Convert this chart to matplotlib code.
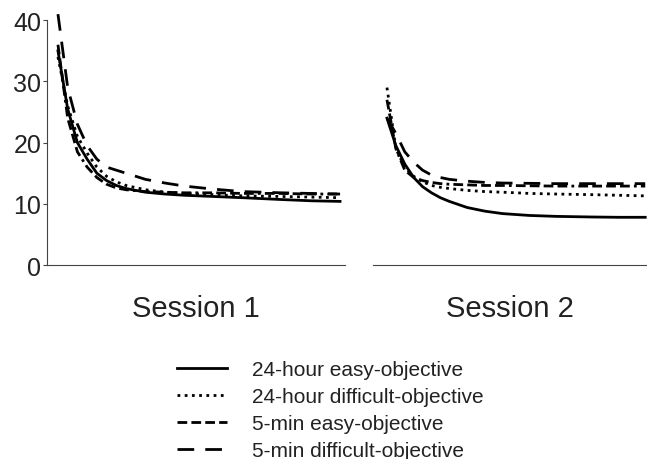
import matplotlib.pyplot as plt
from matplotlib.lines import Line2D

plt.rcParams['font.family'] = ['Liberation Sans', 'DejaVu Sans']

# trial positions shared by all curves
trials = [1, 2, 3, 4, 5, 6, 7, 8, 10, 12, 14, 17, 20, 24, 27, 30]

# Session 1
s1_24h_easy = [35, 25.5, 20, 17.3, 15.0, 13.8, 13.0, 12.5, 11.9, 11.6, 11.4, 11.2, 11.0, 10.7, 10.5, 10.4]
s1_24h_diff = [34, 26, 21, 18.3, 16.0, 14.5, 13.6, 13.0, 12.3, 11.9, 11.7, 11.5, 11.3, 11.2, 11.1, 11.0]
s1_5m_easy = [36, 24, 18.5, 16.0, 14.3, 13.2, 12.6, 12.3, 12.0, 11.9, 11.8, 11.8, 11.7, 11.7, 11.6, 11.6]
s1_5m_diff = [41, 29, 23, 19.5, 17.3, 16.0, 15.5, 15.0, 14.0, 13.4, 12.9, 12.4, 12.0, 11.8, 11.7, 11.6]

# Session 2
s2_24h_easy = [24, 19.5, 16.5, 14.3, 12.8, 11.8, 11.0, 10.4, 9.4, 8.8, 8.4, 8.1, 7.95, 7.85, 7.8, 7.8]
s2_24h_diff = [29, 19, 16, 14.5, 13.6, 13.0, 12.7, 12.5, 12.2, 12.0, 11.9, 11.7, 11.6, 11.5, 11.4, 11.3]
s2_5m_easy = [27, 19, 15.5, 14.3, 13.8, 13.5, 13.3, 13.2, 13.1, 13.0, 13.0, 12.95, 12.9, 12.9, 12.9, 12.9]
s2_5m_diff = [24, 21.5, 18.5, 16.8, 15.5, 14.7, 14.3, 14.0, 13.7, 13.5, 13.4, 13.35, 13.3, 13.3, 13.3, 13.3]

labels = ['24-hour easy-objective', '24-hour difficult-objective',
          '5-min easy-objective', '5-min difficult-objective']

styles = [
    dict(linestyle='-'),
    dict(linestyle=(0, (1, 1.6))),
    dict(linestyle=(0, (3.5, 1.5, 3.5, 1.5, 3.5, 1.5, 3.5, 1.5, 1, 1.5))),
    dict(linestyle=(0, (6, 4))),
]

fig = plt.figure(figsize=(6.47, 4.60), dpi=100)
ax1 = fig.add_axes([0.0726, 0.4217, 0.4605, 0.552])
ax2 = fig.add_axes([0.5765, 0.4217, 0.4235, 0.552])

for ax, series in [(ax1, [s1_24h_easy, s1_24h_diff, s1_5m_easy, s1_5m_diff]),
                   (ax2, [s2_24h_easy, s2_24h_diff, s2_5m_easy, s2_5m_diff])]:
    for ys, st in zip(series, styles):
        ax.plot(trials, ys, color='black', lw=2, **st)
    ax.set_ylim(0, 41.5)
    for side in ['top', 'right']:
        ax.spines[side].set_visible(False)
    ax.spines['bottom'].set_color('#444444')
    ax.spines['left'].set_color('#444444')
    ax.set_xticks([])

ax1.set_xlim(-0.13, 30.5)
ax2.set_xlim(-0.57, 30.2)

ax1.spines['left'].set_bounds(0, 40)
ax1.set_yticks([0, 10, 20, 30, 40])
ax1.tick_params(axis='y', length=3, pad=1, labelsize=18, color='#444444', labelcolor='#222222')

ax2.spines['left'].set_visible(False)
ax2.set_yticks([])

ax1.set_xlabel('Session 1', fontsize=21, labelpad=21, color='#222222')
ax2.set_xlabel('Session 2', fontsize=21, labelpad=21, color='#222222')

handles = [Line2D([], [], color='black', lw=2, **st) for st in styles]
leg = fig.legend(handles, labels, loc='upper left', bbox_to_anchor=(0.2736, 0.2155),
                 frameon=False, fontsize=15, handlelength=2.4, handletextpad=1.2,
                 labelspacing=0.39, borderaxespad=0, borderpad=0)
for t in leg.get_texts():
    t.set_color('#222222')

fig.savefig('out.png', dpi=100)
